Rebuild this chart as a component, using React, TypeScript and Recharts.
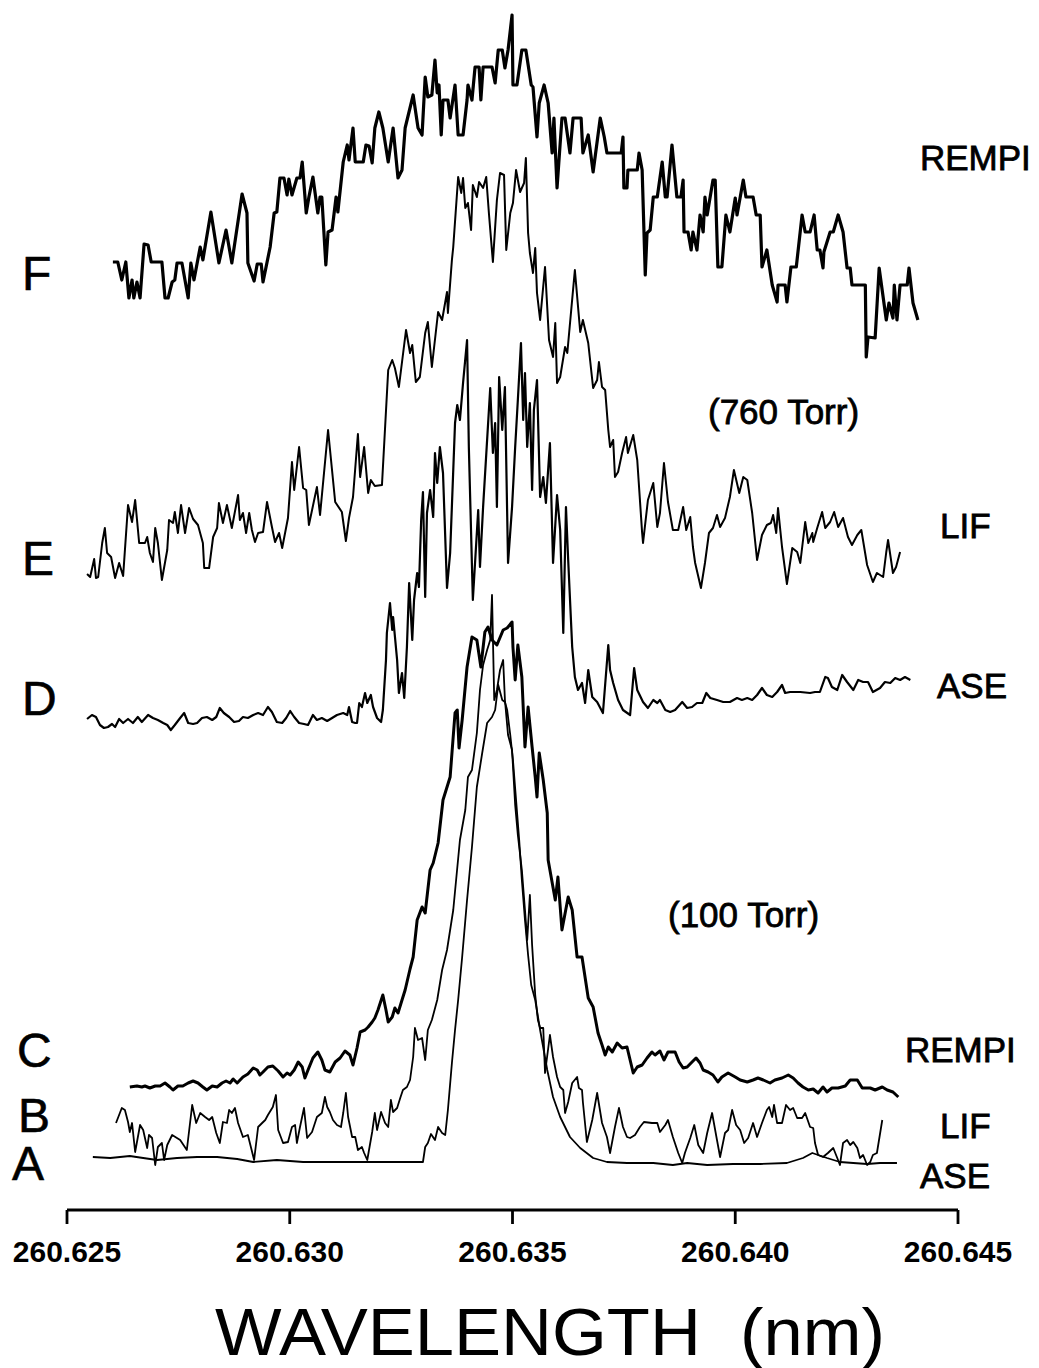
import React from 'react';
import { LineChart, Line, XAxis, YAxis } from 'recharts';

// x: offset from 260.625 nm in picometres, y: stacked signal (arbitrary units)
const BASE_NM = 260.625;

const xTicks = [260.625, 260.63, 260.635, 260.64, 260.645];

// F - REMPI, 760 Torr
const rempi760 = [
  [1.03,948],[1.14,948],[1.23,930],[1.32,948],[1.39,912],[1.46,930],[1.50,912],[1.57,928],[1.64,912],[1.73,966],[1.82,965],[1.89,948],[2.13,948],[2.20,912],[2.27,912],[2.36,928],[2.42,930],[2.47,947],[2.58,947],[2.72,912],[2.78,947],[2.85,930],[2.99,963],[3.05,950],[3.23,998],[3.41,947],[3.57,980],[3.61,970],[3.70,947],[3.93,1016],[4.04,997],[4.06,947],[4.20,929],[4.27,946],[4.36,946],[4.40,928],[4.56,963],[4.65,997],[4.71,998],[4.78,1032],[4.87,1032],[4.94,1015],[4.98,1031],[5.05,1015],[5.16,1032],[5.23,1032],[5.28,1048],[5.37,997],[5.43,1013],[5.52,1033],[5.63,997],[5.68,1013],[5.72,1013],[5.81,945],[5.86,978],[5.95,980],[6.04,1013],[6.08,998],[6.20,1048],[6.29,1065],[6.33,1050],[6.42,1082],[6.47,1048],[6.65,1048],[6.71,1065],[6.78,1064],[6.85,1047],[6.91,1082],[7.00,1098],[7.09,1082],[7.21,1048],[7.32,1082],[7.43,1032],[7.52,1040],[7.59,1082],[7.77,1115],[7.88,1082],[7.97,1075],[8.04,1133],[8.10,1113],[8.19,1115],[8.26,1150],[8.31,1117],[8.35,1125],[8.40,1075],[8.44,1110],[8.55,1110],[8.60,1092],[8.71,1125],[8.78,1075],[8.89,1075],[8.98,1110],[9.00,1125],[9.09,1110],[9.16,1143],[9.25,1143],[9.29,1110],[9.34,1143],[9.54,1143],[9.61,1127],[9.68,1160],[9.77,1160],[9.83,1142],[9.90,1160],[9.99,1195],[10.01,1125],[10.10,1125],[10.21,1160],[10.30,1160],[10.42,1125],[10.46,1123],[10.55,1073],[10.60,1107],[10.71,1125],[10.80,1107],[10.89,1057],[10.93,1092],[11.00,1022],[11.11,1092],[11.18,1092],[11.29,1057],[11.36,1092],[11.54,1092],[11.58,1057],[11.70,1075],[11.81,1038],[11.97,1092],[12.06,1073],[12.12,1057],[12.44,1057],[12.48,1073],[12.50,1022],[12.57,1022],[12.59,1040],[12.80,1040],[12.84,1057],[12.91,1040],[12.98,935],[13.02,977],[13.09,980],[13.16,1013],[13.25,1013],[13.36,1048],[13.43,1013],[13.47,1013],[13.58,1065],[13.69,1013],[13.78,1013],[13.83,1030],[13.85,978],[13.94,978],[14.01,960],[14.05,978],[14.14,960],[14.21,995],[14.28,978],[14.32,1013],[14.37,995],[14.50,1030],[14.55,1030],[14.61,943],[14.70,943],[14.79,995],[14.88,978],[15.00,1012],[15.04,995],[15.18,1030],[15.24,1013],[15.40,1013],[15.47,995],[15.56,995],[15.60,943],[15.71,960],[15.83,925],[15.94,908],[15.96,925],[16.12,925],[16.16,908],[16.25,943],[16.37,943],[16.50,995],[16.57,978],[16.68,978],[16.77,995],[16.84,960],[16.90,960],[16.97,942],[16.99,958],[17.13,978],[17.20,978],[17.31,995],[17.42,978],[17.51,942],[17.58,942],[17.62,925],[17.92,925],[17.94,853],[17.98,873],[18.14,872],[18.23,942],[18.39,890],[18.45,907],[18.54,892],[18.57,925],[18.63,890],[18.70,925],[18.86,925],[18.90,942],[18.99,907],[19.10,890],
];

// E - LIF, 760 Torr
const lif760 = [
  [0.45,636],[0.52,633],[0.61,651],[0.65,632],[0.70,633],[0.79,667],[0.85,682],[0.90,657],[0.99,653],[1.08,632],[1.17,647],[1.26,634],[1.37,705],[1.46,688],[1.53,710],[1.62,667],[1.75,667],[1.80,673],[1.86,657],[1.93,648],[1.98,682],[2.04,667],[2.13,630],[2.25,660],[2.29,690],[2.38,687],[2.42,698],[2.49,677],[2.56,705],[2.65,677],[2.74,702],[2.83,691],[2.94,685],[3.05,667],[3.08,642],[3.19,642],[3.28,673],[3.37,682],[3.41,707],[3.50,687],[3.59,705],[3.70,682],[3.84,715],[3.88,690],[3.95,697],[4.02,677],[4.09,697],[4.15,680],[4.22,668],[4.29,677],[4.40,678],[4.49,708],[4.60,683],[4.67,668],[4.76,677],[4.83,662],[4.96,692],[5.05,748],[5.10,720],[5.21,763],[5.30,722],[5.37,720],[5.43,685],[5.61,723],[5.68,695],[5.86,780],[6.02,708],[6.17,698],[6.26,669],[6.33,692],[6.42,713],[6.53,776],[6.58,733],[6.67,763],[6.76,717],[6.82,730],[6.91,724],[7.07,725],[7.21,840],[7.30,850],[7.36,842],[7.45,823],[7.61,880],[7.70,857],[7.75,865],[7.83,828],[7.92,833],[8.04,877],[8.10,888],[8.19,843],[8.33,898],[8.42,890],[8.53,918],[8.55,897],[8.64,950],[8.67,963],[8.78,1033],[8.85,1017],[8.89,1032],[8.94,1002],[9.00,1007],[9.07,980],[9.11,1025],[9.20,1013],[9.25,1028],[9.34,1022],[9.41,1033],[9.47,997],[9.56,948],[9.65,1010],[9.72,1037],[9.81,1035],[9.86,960],[9.95,997],[10.01,1007],[10.08,1040],[10.17,1018],[10.26,1027],[10.30,1052],[10.35,977],[10.39,957],[10.46,937],[10.51,962],[10.55,917],[10.62,890],[10.73,943],[10.82,870],[10.91,853],[10.96,887],[11.00,827],[11.07,833],[11.18,863],[11.23,857],[11.40,940],[11.52,878],[11.58,890],[11.70,867],[11.81,822],[11.90,830],[11.94,848],[12.01,823],[12.08,820],[12.15,780],[12.19,763],[12.26,770],[12.30,733],[12.37,738],[12.46,757],[12.55,773],[12.59,757],[12.71,775],[12.80,750],[12.91,677],[12.93,667],[13.04,710],[13.16,727],[13.25,683],[13.31,697],[13.40,747],[13.49,708],[13.60,680],[13.72,680],[13.83,703],[13.90,680],[13.99,693],[14.05,663],[14.10,647],[14.23,622],[14.32,647],[14.41,677],[14.50,682],[14.59,695],[14.66,683],[14.77,692],[14.88,713],[14.97,740],[15.09,717],[15.18,733],[15.27,730],[15.38,697],[15.49,650],[15.60,675],[15.71,685],[15.80,687],[15.85,695],[15.92,677],[15.96,702],[16.05,663],[16.16,626],[16.28,662],[16.39,658],[16.46,647],[16.57,688],[16.64,667],[16.73,677],[16.75,668],[16.84,682],[16.95,698],[17.02,682],[17.13,688],[17.22,698],[17.31,683],[17.42,692],[17.53,673],[17.62,665],[17.74,675],[17.83,680],[17.96,645],[18.09,628],[18.18,637],[18.32,633],[18.39,658],[18.43,670],[18.54,637],[18.61,643],[18.70,658],
];

// D - ASE, 760 Torr
const ase760 = [
  [0.45,491],[0.56,495],[0.65,493],[0.74,485],[0.83,482],[0.92,483],[1.01,486],[1.08,483],[1.17,491],[1.26,487],[1.37,491],[1.48,487],[1.59,493],[1.68,488],[1.82,495],[1.93,492],[2.04,490],[2.16,487],[2.25,485],[2.33,480],[2.42,485],[2.54,492],[2.63,497],[2.72,487],[2.83,486],[2.92,487],[3.03,492],[3.14,493],[3.26,490],[3.35,493],[3.43,502],[3.52,497],[3.64,493],[3.75,488],[3.86,489],[3.95,493],[4.06,492],[4.18,495],[4.29,497],[4.40,495],[4.51,503],[4.60,498],[4.71,488],[4.83,487],[4.92,492],[5.01,499],[5.10,493],[5.21,487],[5.32,486],[5.41,485],[5.52,495],[5.61,490],[5.72,492],[5.84,489],[5.95,492],[6.06,495],[6.20,497],[6.29,495],[6.33,503],[6.40,488],[6.47,487],[6.51,487],[6.56,507],[6.62,503],[6.69,517],[6.74,507],[6.82,515],[6.87,503],[6.96,492],[7.05,488],[7.09,500],[7.16,550],[7.18,577],[7.25,607],[7.30,580],[7.32,593],[7.41,550],[7.45,517],[7.52,537],[7.57,512],[7.63,563],[7.68,627],[7.75,570],[7.79,610],[7.86,637],[7.90,623],[7.95,690],[7.99,718],[8.04,613],[8.08,697],[8.15,720],[8.22,693],[8.26,757],[8.31,727],[8.37,763],[8.44,737],[8.53,622],[8.60,657],[8.71,787],[8.76,805],[8.82,790],[8.89,827],[8.98,870],[9.02,763],[9.11,610],[9.23,700],[9.27,643],[9.34,703],[9.50,822],[9.56,757],[9.61,787],[9.65,703],[9.70,833],[9.77,780],[9.83,823],[9.90,647],[9.99,703],[10.06,763],[10.12,810],[10.19,867],[10.24,790],[10.28,837],[10.33,763],[10.39,807],[10.44,720],[10.48,800],[10.55,830],[10.62,713],[10.69,733],[10.75,707],[10.84,767],[10.91,647],[11.00,715],[11.07,680],[11.14,577],[11.20,703],[11.25,650],[11.34,563],[11.40,533],[11.47,520],[11.56,527],[11.63,507],[11.70,540],[11.79,513],[11.90,508],[12.03,497],[12.15,565],[12.19,540],[12.26,527],[12.37,510],[12.48,500],[12.64,495],[12.73,542],[12.80,520],[12.93,508],[13.04,502],[13.16,510],[13.25,507],[13.31,510],[13.43,500],[13.54,498],[13.65,500],[13.81,508],[13.92,502],[14.03,503],[14.14,507],[14.26,507],[14.35,517],[14.44,512],[14.59,510],[14.73,508],[14.88,508],[15.04,512],[15.15,510],[15.27,512],[15.38,510],[15.49,515],[15.60,522],[15.71,515],[15.83,513],[15.94,518],[16.05,525],[16.12,517],[16.23,518],[16.46,518],[16.68,517],[16.79,518],[16.90,518],[17.02,533],[17.08,532],[17.17,523],[17.29,520],[17.40,535],[17.51,528],[17.65,520],[17.76,530],[17.87,528],[17.98,528],[18.09,518],[18.25,522],[18.36,528],[18.48,527],[18.59,532],[18.70,530],[18.81,533],[18.93,530],
];

// C - REMPI, 100 Torr
const rempi100 = [
  [1.41,123],[1.57,124],[1.68,123],[1.75,124],[1.86,122],[1.98,124],[2.09,124],[2.20,127],[2.31,123],[2.38,120],[2.49,124],[2.60,124],[2.72,127],[2.83,129],[2.94,127],[3.05,123],[3.14,120],[3.26,124],[3.37,123],[3.48,127],[3.57,129],[3.66,127],[3.73,131],[3.82,127],[3.95,133],[4.06,136],[4.18,142],[4.27,140],[4.33,135],[4.40,138],[4.51,143],[4.62,144],[4.74,139],[4.85,133],[4.94,137],[5.01,135],[5.10,140],[5.19,148],[5.28,143],[5.34,132],[5.41,140],[5.52,152],[5.63,158],[5.72,150],[5.79,140],[5.90,138],[6.02,148],[6.13,152],[6.24,159],[6.35,155],[6.42,145],[6.51,162],[6.58,178],[6.69,180],[6.76,183],[6.85,188],[6.91,192],[6.98,200],[7.09,215],[7.16,200],[7.21,188],[7.30,193],[7.36,202],[7.43,197],[7.52,210],[7.59,220],[7.70,241],[7.77,253],[7.86,290],[7.97,303],[8.04,297],[8.15,340],[8.22,347],[8.33,367],[8.44,410],[8.60,433],[8.71,497],[8.76,500],[8.80,462],[8.87,490],[8.98,543],[9.09,573],[9.20,570],[9.29,543],[9.38,578],[9.45,583],[9.54,570],[9.65,565],[9.79,580],[9.88,582],[9.99,588],[10.01,563],[10.06,530],[10.12,565],[10.21,533],[10.28,463],[10.35,503],[10.44,463],[10.51,433],[10.55,413],[10.60,457],[10.69,430],[10.78,397],[10.80,350],[10.96,310],[11.02,333],[11.11,280],[11.25,313],[11.34,300],[11.45,253],[11.56,253],[11.70,212],[11.81,203],[11.92,177],[12.01,165],[12.08,155],[12.15,163],[12.24,158],[12.35,167],[12.46,162],[12.57,163],[12.71,137],[12.80,143],[12.91,145],[13.02,152],[13.13,158],[13.20,155],[13.31,159],[13.40,150],[13.49,158],[13.65,158],[13.74,148],[13.83,142],[13.92,143],[14.03,148],[14.12,152],[14.21,147],[14.28,140],[14.39,138],[14.50,135],[14.61,128],[14.70,133],[14.84,137],[15.00,133],[15.11,130],[15.27,128],[15.40,130],[15.51,132],[15.63,130],[15.78,127],[15.89,130],[16.05,132],[16.19,135],[16.30,132],[16.41,127],[16.52,123],[16.64,120],[16.75,121],[16.86,117],[16.97,123],[17.06,118],[17.17,122],[17.31,122],[17.47,124],[17.58,130],[17.74,130],[17.85,122],[18.03,122],[18.14,120],[18.30,123],[18.41,120],[18.54,118],[18.66,113],
];

// B - LIF, 100 Torr
const lif100 = [
  [1.10,87],[1.23,102],[1.30,100],[1.37,88],[1.41,78],[1.46,87],[1.53,58],[1.64,85],[1.71,80],[1.80,62],[1.84,75],[1.91,72],[1.98,45],[2.04,63],[2.13,67],[2.18,50],[2.25,65],[2.36,75],[2.54,70],[2.69,60],[2.81,105],[2.90,87],[2.99,97],[3.10,93],[3.19,90],[3.26,93],[3.35,77],[3.43,67],[3.50,88],[3.59,87],[3.64,100],[3.70,97],[3.77,102],[3.84,87],[3.95,73],[4.06,75],[4.20,50],[4.29,83],[4.38,87],[4.45,90],[4.51,95],[4.62,103],[4.69,115],[4.74,80],[4.85,67],[4.96,68],[5.05,83],[5.12,85],[5.16,67],[5.23,83],[5.32,102],[5.39,72],[5.50,78],[5.61,93],[5.72,97],[5.79,113],[5.84,103],[5.90,98],[5.97,90],[6.06,85],[6.15,83],[6.20,97],[6.26,117],[6.31,93],[6.40,73],[6.47,73],[6.53,60],[6.62,63],[6.67,57],[6.74,50],[6.85,78],[6.91,97],[6.96,80],[7.05,98],[7.14,87],[7.21,83],[7.27,110],[7.32,98],[7.41,102],[7.48,112],[7.54,120],[7.63,123],[7.70,130],[7.77,153],[7.81,182],[7.88,170],[7.97,172],[8.04,150],[8.10,180],[8.19,190],[8.31,210],[8.42,240],[8.53,260],[8.67,300],[8.82,370],[8.94,400],[9.00,433],[9.09,440],[9.20,477],[9.27,520],[9.34,545],[9.43,560],[9.50,570],[9.54,615],[9.59,510],[9.65,520],[9.72,540],[9.79,550],[9.83,510],[9.90,475],[9.99,460],[10.06,405],[10.12,375],[10.21,340],[10.28,300],[10.33,270],[10.39,315],[10.44,265],[10.51,215],[10.57,190],[10.62,182],[10.69,182],[10.73,137],[10.84,175],[10.91,153],[11.00,133],[11.07,123],[11.14,120],[11.18,97],[11.25,108],[11.34,127],[11.45,133],[11.49,122],[11.56,120],[11.58,108],[11.67,68],[11.79,90],[11.90,117],[12.01,87],[12.12,73],[12.19,57],[12.30,83],[12.39,102],[12.48,83],[12.57,73],[12.64,72],[12.75,75],[12.86,83],[12.95,88],[13.13,87],[13.25,87],[13.31,78],[13.43,85],[13.49,90],[13.60,73],[13.72,57],[13.81,47],[13.87,57],[13.99,72],[14.08,85],[14.17,65],[14.28,57],[14.37,77],[14.48,97],[14.59,70],[14.66,53],[14.77,77],[14.84,80],[14.93,100],[15.02,85],[15.11,80],[15.20,67],[15.29,72],[15.40,87],[15.49,73],[15.60,87],[15.71,100],[15.76,103],[15.83,93],[15.87,105],[15.94,87],[16.05,87],[16.14,105],[16.23,100],[16.30,102],[16.39,92],[16.50,92],[16.57,97],[16.68,83],[16.75,82],[16.79,67],[16.86,55],[16.97,53],[17.08,57],[17.20,62],[17.29,52],[17.35,45],[17.42,67],[17.51,70],[17.58,65],[17.65,68],[17.74,62],[17.80,52],[17.87,55],[17.96,45],[18.03,48],[18.09,55],[18.18,57],[18.30,90],
];

// A - ASE, 100 Torr
const ase100 = [
  [0.58,53],[0.97,52],[1.41,54],[1.71,52],[2.02,50],[2.47,52],[2.92,53],[3.37,53],[3.82,51],[4.18,48],[4.71,50],[5.30,48],[5.90,48],[6.51,48],[7.09,48],[7.63,48],[7.99,48],[8.04,63],[8.10,67],[8.17,76],[8.26,70],[8.33,83],[8.42,77],[8.49,75],[8.55,100],[8.64,147],[8.71,180],[8.78,210],[8.87,253],[8.98,310],[9.09,363],[9.20,423],[9.32,457],[9.43,487],[9.54,493],[9.61,500],[9.68,525],[9.77,510],[9.83,508],[9.88,500],[9.95,475],[10.01,450],[10.08,410],[10.15,370],[10.21,330],[10.28,290],[10.35,255],[10.42,225],[10.51,210],[10.62,180],[10.78,140],[10.91,113],[11.07,93],[11.29,73],[11.52,62],[11.81,52],[12.12,48],[12.57,47],[13.16,47],[13.60,45],[13.92,47],[14.37,45],[14.95,46],[15.56,46],[16.16,47],[16.52,52],[16.73,57],[16.86,55],[17.06,52],[17.35,48],[17.65,47],[17.96,46],[18.25,47],[18.63,47],
];

const toPoints = (rows: number[][]) => rows.map(([d, v]) => ({ x: BASE_NM + d / 1000, y: v }));

const traces = [
  { key: 'F', rows: rempi760, width: 3.2 },
  { key: 'E', rows: lif760, width: 2 },
  { key: 'D', rows: ase760, width: 2.2 },
  { key: 'C', rows: rempi100, width: 3 },
  { key: 'B', rows: lif100, width: 1.8 },
  { key: 'A', rows: ase100, width: 1.8 },
];

const font = "Arial, 'Liberation Sans', Helvetica, sans-serif";

// annotation text: [text, x, baseline]
const letterLabels: [string, number, number][] = [
  ['F', 22, 290], ['E', 22, 575], ['D', 22, 715], ['C', 17, 1067], ['B', 18, 1132], ['A', 12, 1180],
];
const sideLabels: [string, number, number][] = [
  ['REMPI', 920, 170], ['(760 Torr)', 708, 424], ['LIF', 940, 538], ['ASE', 937, 698],
  ['(100 Torr)', 668, 927], ['REMPI', 905, 1062], ['LIF', 940, 1138], ['ASE', 920, 1188],
];

export default function App() {
  return (
    <div style={{ position: 'relative', width: 1039, height: 1368, background: '#fff' }}>
      <style>{'body{margin:0;background:#fff}'}</style>
      <LineChart width={1039} height={1368} margin={{ top: 0, right: 81, left: 67, bottom: 0 }}>
        <XAxis
          type="number"
          dataKey="x"
          domain={[260.625, 260.645]}
          ticks={xTicks}
          tickFormatter={(v: number) => v.toFixed(3)}
          height={158}
          tickSize={14}
          tickMargin={17}
          stroke="#000"
          strokeWidth={2.8}
          tick={{ fill: '#000', fontSize: 30, fontWeight: 'bold', fontFamily: font }}
        />
        <YAxis type="number" domain={[0, 1210]} hide />
        {traces.map((t) => (
          <Line
            key={t.key}
            data={toPoints(t.rows)}
            dataKey="y"
            type="linear"
            stroke="#000"
            strokeWidth={t.width}
            strokeLinejoin="round"
            dot={false}
            activeDot={false}
            isAnimationActive={false}
          />
        ))}
      </LineChart>
      <svg width={1039} height={1368} style={{ position: 'absolute', left: 0, top: 0, pointerEvents: 'none' }}>
        {letterLabels.map(([t, x, y]) => (
          <text key={t} x={x} y={y} fontSize={48} fontFamily={font} fill="#000" stroke="#000" strokeWidth={0.6}>{t}</text>
        ))}
        {sideLabels.map(([t, x, y], i) => (
          <text key={i} x={x} y={y} fontSize={35} fontFamily={font} fill="#000" stroke="#000" strokeWidth={0.8}>{t}</text>
        ))}
        <text x={215} y={1355} fontSize={66} fontFamily={font} fill="#000" textLength={670} lengthAdjust="spacingAndGlyphs" style={{ whiteSpace: 'pre' }}>
          WAVELENGTH  (nm)
        </text>
      </svg>
    </div>
  );
}
